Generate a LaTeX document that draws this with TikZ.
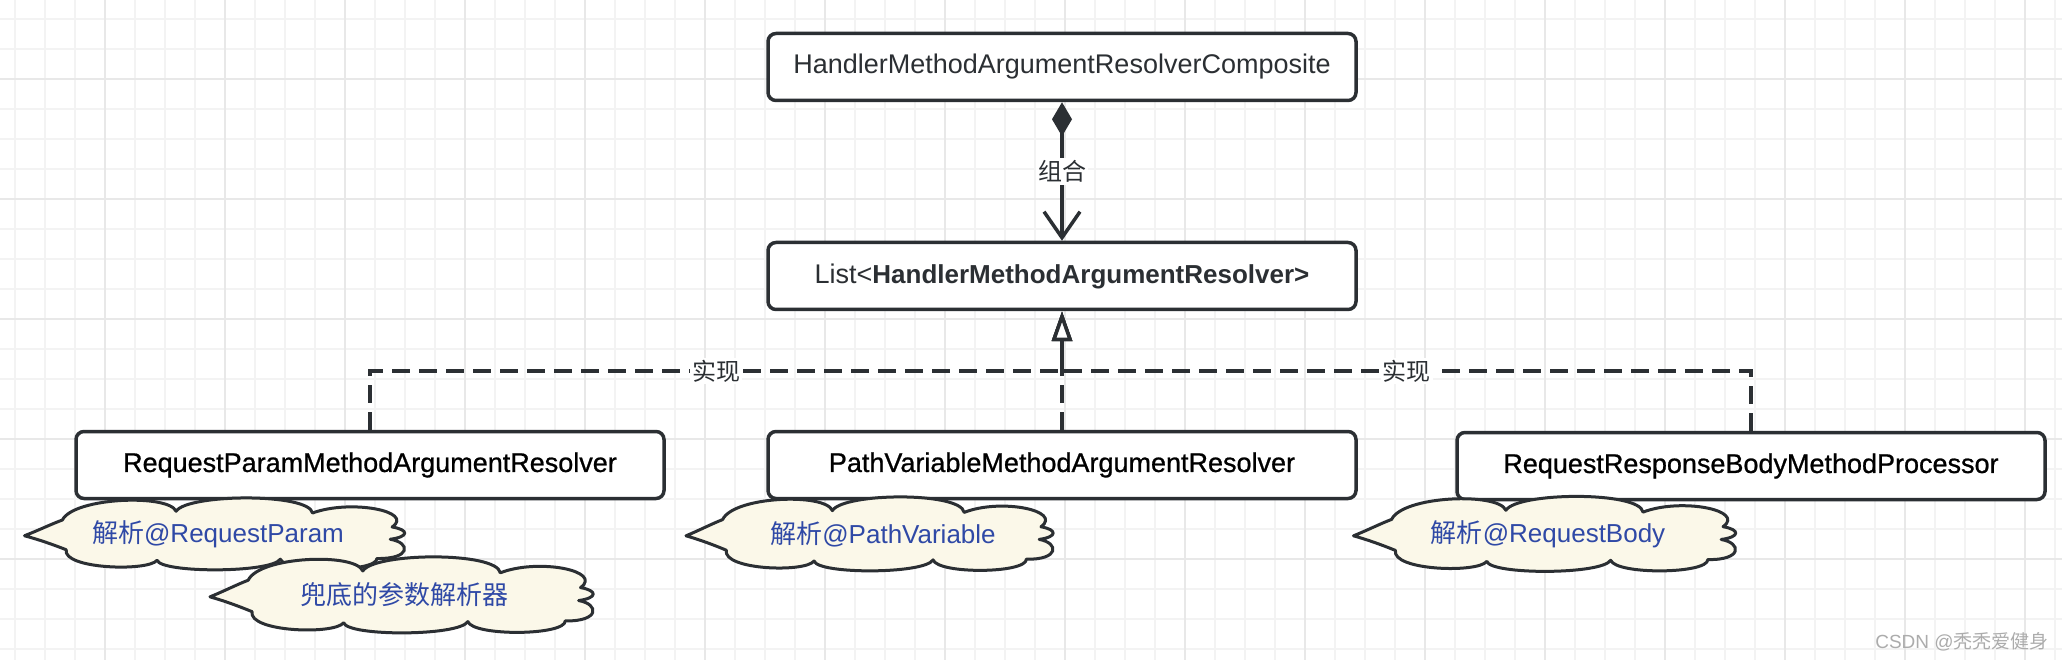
\documentclass[tikz,border=0pt]{standalone}
\usepackage{fontspec}
\setmainfont{Liberation Sans}
\newfontfamily\cjk{Noto Sans CJK SC}
\newfontfamily\heavy[FakeBold=0.8]{Liberation Sans}
\usetikzlibrary{arrows.meta}
\definecolor{inkline}{HTML}{2B2F33}
\definecolor{noteblue}{HTML}{2F49A6}
\definecolor{notefill}{HTML}{FBF8E9}
\definecolor{gridlo}{HTML}{F3F3F3}
\definecolor{gridhi}{HTML}{E8E8E8}
\tikzset{
  cloudnote/.pic={
    \draw[draw=inkline, line width=3pt, fill=notefill, line join=round]
      (-100,5) .. controls (-92,-12) and (-86,-28) .. (-80,-40)
      .. controls (-74,-105) and (-24,-115) .. (-20,-65)
      .. controls (-14,-115) and (50,-118) .. (52,-60)
      .. controls (72,-100) and (106,-65) .. (94,-20)
      .. controls (103,-12) and (103,8) .. (93,15)
      .. controls (104,25) and (104,72) .. (86,70)
      .. controls (86,110) and (38,112) .. (35,72)
      .. controls (30,112) and (-28,112) .. (-30,75)
      .. controls (-35,108) and (-80,100) .. (-78,45)
      .. controls (-85,30) and (-93,15) .. cycle;
  }
}

\begin{document}
\begin{tikzpicture}[x=1pt,y=-1pt,
  box/.style={draw=inkline, line width=3.5pt, rounded corners=8pt, fill=white, minimum width=588pt, minimum height=67pt, inner sep=0pt, font=\fontsize{27}{32}\selectfont},
  notetext/.style={text=noteblue, inner sep=0pt, font=\fontsize{26}{30}\selectfont},
  lbl/.style={fill=white, text=inkline, inner sep=2pt, font=\cjk\fontsize{24}{28}\selectfont},
  compose/.style={draw=inkline, line width=3.5pt, {Diamond[length=34pt,width=20pt]}-{Straight Barb[length=26pt,width=36pt]}},
  realize/.style={draw=inkline, line width=3.5pt, dash pattern=on 18pt off 9pt, -{Triangle[open,length=30pt,width=20pt,fill=white]}}]

\useasboundingbox (0,0) rectangle (2062,660);
\fill[white] (0,0) rectangle (2062,660);
% grid paper
\foreach \gx in {15,45,...,2055} \draw[gridlo, line width=1.5pt] (\gx,0) -- (\gx,660);
\foreach \gy in {19,49,...,649} \draw[gridlo, line width=1.5pt] (0,\gy) -- (2062,\gy);
\foreach \gx in {105,225,...,2025} \draw[gridhi, line width=2pt] (\gx,0) -- (\gx,660);
\foreach \gy in {79,199,...,619} \draw[gridhi, line width=2pt] (0,\gy) -- (2062,\gy);

\node[box, text=inkline] (comp) at (1062,67) {HandlerMethodArgumentResolverComposite};
\node[box, text=inkline] (list) at (1062,276) {List<{\fontsize{26}{32}\selectfont\bfseries HandlerMethodArgumentResolver>}};
\node[box, text=black, font=\heavy\fontsize{27}{32}\selectfont] (rpmar) at (370,465) {RequestParamMethodArgumentResolver};
\node[box, text=black, font=\heavy\fontsize{27}{32}\selectfont] (pvmar) at (1062,465) {PathVariableMethodArgumentResolver};
\node[box, text=black, font=\heavy\fontsize{27}{32}\selectfont] (rrbmp) at (1751,466) {RequestResponseBodyMethodProcessor};

\coordinate (joint) at (1062,371);
\draw[compose] (comp.south) -- node[lbl] {组合} (list.north);
\draw[realize] (rpmar.north) |- node[lbl, pos=0.75] {实现} (joint) -- (list.south);
\draw[realize] (pvmar.north) -- (list.south);
\draw[realize] (rrbmp.north) |- node[lbl, pos=0.75] {实现} (joint) -- (list.south);

% notes
\pic[xscale=1.895, yscale=0.35] at (214,534) {cloudnote};
\node[notetext] (noteparam) at (218,534) {{\cjk 解析}@RequestParam};
\pic[xscale=1.91, yscale=0.37] at (401,595) {cloudnote};
\node[notetext, font=\cjk\fontsize{26}{30}\selectfont] (notefallback) at (404,595) {兜底的参数解析器};
\pic[xscale=1.83, yscale=0.36] at (869,534) {cloudnote};
\node[notetext] (notepath) at (883,534) {{\cjk 解析}@PathVariable};
\pic[xscale=1.905, yscale=0.365] at (1544,534) {cloudnote};
\node[notetext] (notebody) at (1548,534) {{\cjk 解析}@RequestBody};

\node[text=gray!65, font=\fontsize{19}{22}\selectfont] (mark) at (1962,642) {CSDN @{\cjk 秃秃爱健身}};
\end{tikzpicture}
\end{document}
